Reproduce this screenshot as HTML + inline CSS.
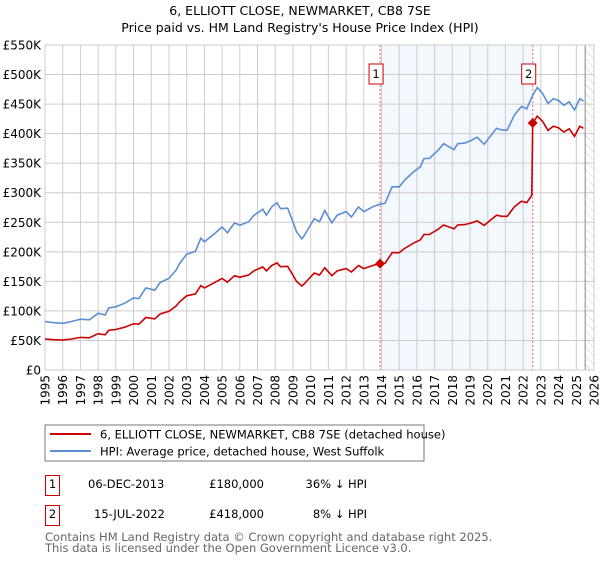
<!DOCTYPE html>
<html><head><meta charset="utf-8"><style>
body{margin:0;background:#fff;width:600px;height:560px;overflow:hidden;font-family:"DejaVu Sans","Liberation Sans",sans-serif}
svg text{font-family:"DejaVu Sans","Liberation Sans",sans-serif}
</style></head><body>
<svg id="c" width="600" height="560" xmlns="http://www.w3.org/2000/svg">
<defs><pattern id="hatch" width="6" height="6" patternUnits="userSpaceOnUse" patternTransform="rotate(-45)"><line x1="0" y1="0" x2="0" y2="6" stroke="#ccc" stroke-width="1"/></pattern></defs>
<text x="300" y="15" text-anchor="middle" font-size="12.5">6, ELLIOTT CLOSE, NEWMARKET, CB8 7SE</text>
<text x="300" y="32" text-anchor="middle" font-size="12.5">Price paid vs. HM Land Registry's House Price Index (HPI)</text>
<g id="plot"></g>
<rect x="45" y="425" width="379" height="36" fill="#fff" stroke="#777"/>
<line x1="50" y1="434" x2="91" y2="434" stroke="#cc0000" stroke-width="2"/>
<text x="100" y="438.5" font-size="11.5">6, ELLIOTT CLOSE, NEWMARKET, CB8 7SE (detached house)</text>
<line x1="50" y1="451" x2="91" y2="451" stroke="#5b8fd4" stroke-width="2"/>
<text x="100" y="455.5" font-size="11.5">HPI: Average price, detached house, West Suffolk</text>
<g font-size="11.5">
<rect x="45.5" y="475.5" width="14" height="20" fill="none" stroke="#cc0000"/><text x="52.5" y="488" text-anchor="middle">1</text>
<text x="88" y="488">06-DEC-2013</text><text x="264" y="488" text-anchor="end">£180,000</text><text x="367" y="488" text-anchor="end">36% ↓ HPI</text>
<rect x="45.5" y="505.5" width="14" height="20" fill="none" stroke="#cc0000"/><text x="52.5" y="518" text-anchor="middle">2</text>
<text x="94" y="518">15-JUL-2022</text><text x="264" y="518" text-anchor="end">£418,000</text><text x="367" y="518" text-anchor="end">8% ↓ HPI</text>
</g>
<text x="45" y="541" font-size="11.5" fill="#666">Contains HM Land Registry data © Crown copyright and database right 2025.</text>
<text x="45" y="552" font-size="11.5" fill="#666">This data is licensed under the Open Government Licence v3.0.</text>
</svg>
<script>
const hpiYears=[1995,1995.5,1996,1996.5,1997,1997.5,1998,1998.4,1998.6,1999,1999.5,2000,2000.3,2000.7,2001.2,2001.5,2002,2002.4,2002.6,2003,2003.5,2003.8,2004,2004.5,2005,2005.3,2005.7,2006,2006.5,2006.8,2007.3,2007.5,2007.8,2008.1,2008.3,2008.7,2009,2009.2,2009.5,2009.6,2010.2,2010.5,2010.8,2011.2,2011.5,2012,2012.3,2012.7,2013,2013.5,2013.92,2014.2,2014.6,2015,2015.3,2015.8,2016.2,2016.4,2016.7,2017.2,2017.5,2017.8,2018.1,2018.3,2018.7,2019.1,2019.4,2019.8,2020.1,2020.5,2020.8,2021.1,2021.5,2021.9,2022.2,2022.54,2022.8,2023.1,2023.4,2023.7,2024,2024.3,2024.6,2024.9,2025.2,2025.4];
const hpiValues=[82,80,79,82,86,85,96,93,105,107,113,122,121,139,135,148,155,169,180,196,201,223,217,229,242,232,249,245,251,262,272,262,276,283,273,274,251,234,222,226,256,251,270,249,262,268,259,276,268,276,281,282,310,310,321,335,344,358,358,372,383,378,373,383,384,389,394,382,394,409,406,406,431,446,442,465,478,468,451,459,456,448,454,440,459,455];
const saleYears=[2013.92,2022.54];
const salePrices=[180,418];
const saleLabels=['1','2'];
const yTicks=[0,50,100,150,200,250,300,350,400,450,500,550];
const yTickLabels=['£0','£50K','£100K','£150K','£200K','£250K','£300K','£350K','£400K','£450K','£500K','£550K'];
const xTicks=[1995,1996,1997,1998,1999,2000,2001,2002,2003,2004,2005,2006,2007,2008,2009,2010,2011,2012,2013,2014,2015,2016,2017,2018,2019,2020,2021,2022,2023,2024,2025,2026];
const dataEnd=2025.5;
const X0=45,X1=594,Y0=370,Y1=45;
const sx=v=>X0+(v-1995)/(2026-1995)*(X1-X0);
const sy=v=>Y0-v/550*(Y0-Y1);
const NS='http://www.w3.org/2000/svg';
const g=document.getElementById('plot');
function mk(t,a){const e=document.createElementNS(NS,t);for(const k in a)e.setAttribute(k,a[k]);g.appendChild(e);return e;}
function hpiAt(y){for(let i=1;i<hpiYears.length;i++){if(y<=hpiYears[i]){const t=(y-hpiYears[i-1])/(hpiYears[i]-hpiYears[i-1]);return hpiValues[i-1]+t*(hpiValues[i]-hpiValues[i-1]);}}return hpiValues[hpiValues.length-1];}
let r=mk('rect',{x:sx(saleYears[0]),y:Y1,width:sx(saleYears[1])-sx(saleYears[0]),height:Y0-Y1,fill:'#eef3fd',opacity:'0.7'});


let h=mk('rect',{x:sx(dataEnd),y:Y1,width:X1-sx(dataEnd),height:Y0-Y1,fill:'url(#hatch)'});


yTicks.forEach((v,i)=>{
 let l=mk('line',{x1:X0,x2:X1,y1:sy(v),y2:sy(v),stroke:'#ccc'});
 
 
 let t=mk('text',{x:X0-4,y:sy(v)+4.5,'text-anchor':'end','font-size':'12'});t.textContent=yTickLabels[i];
 
 
});
xTicks.forEach(v=>{
 let l=mk('line',{x1:sx(v),x2:sx(v),y1:Y1,y2:Y0,stroke:'#ccc'});
 
 
 let t=mk('text',{x:0,y:0,'text-anchor':'end','font-size':'12',transform:`translate(${sx(v)+4.5},${Y0+5}) rotate(-90)`});t.textContent=v;
 
 
});
let dl=mk('line',{x1:sx(dataEnd),x2:sx(dataEnd),y1:Y1,y2:Y0,stroke:'#888'});


let fr=mk('rect',{x:X0,y:Y1,width:X1-X0,height:Y0-Y1,fill:'none',stroke:'#ccc'});


saleYears.forEach((s,i)=>{
 let l=mk('line',{x1:sx(s),x2:sx(s),y1:Y1,y2:Y0,stroke:'#f66','stroke-dasharray':'2,2'});
 
 
 let b=mk('rect',{x:sx(s)-11,y:64,width:14,height:20,fill:'#fff',stroke:'#cc0000'});
 
 
 let t=mk('text',{x:sx(s)-4,y:78,'text-anchor':'middle','font-size':'11.5'});t.textContent=saleLabels[i];
 
 
});
const hp=hpiYears.map((y,i)=>sx(y).toFixed(1)+','+sy(hpiValues[i]).toFixed(1)).join(' ');
let hl=mk('polyline',{points:hp,fill:'none',stroke:'#5b8fd4','stroke-width':'1.6'});


const r1=salePrices[0]/hpiAt(saleYears[0]), r2=salePrices[1]/hpiAt(saleYears[1]);
const rp=[];
hpiYears.forEach((y,i)=>{
 if(y<saleYears[1]) rp.push([y,hpiValues[i]*r1]);
 else { if(rp.length && rp[rp.length-1][0]<saleYears[1]){rp.push([saleYears[1]-0.05,hpiAt(saleYears[1]-0.05)*r1]);rp.push([saleYears[1],salePrices[1]]);} if(y>saleYears[1]) rp.push([y,hpiValues[i]*r2]); }
});
let pl=mk('polyline',{points:rp.map(p=>sx(p[0]).toFixed(1)+','+sy(p[1]).toFixed(1)).join(' '),fill:'none',stroke:'#cc0000','stroke-width':'1.6'});


saleYears.forEach((s,i)=>{
 const x=sx(s),y=sy(salePrices[i]);
 let d=mk('polygon',{points:`${x},${y-5} ${x+5},${y} ${x},${y+5} ${x-5},${y}`,fill:'#cc0000'});
 
 
});
</script>
</body></html>
